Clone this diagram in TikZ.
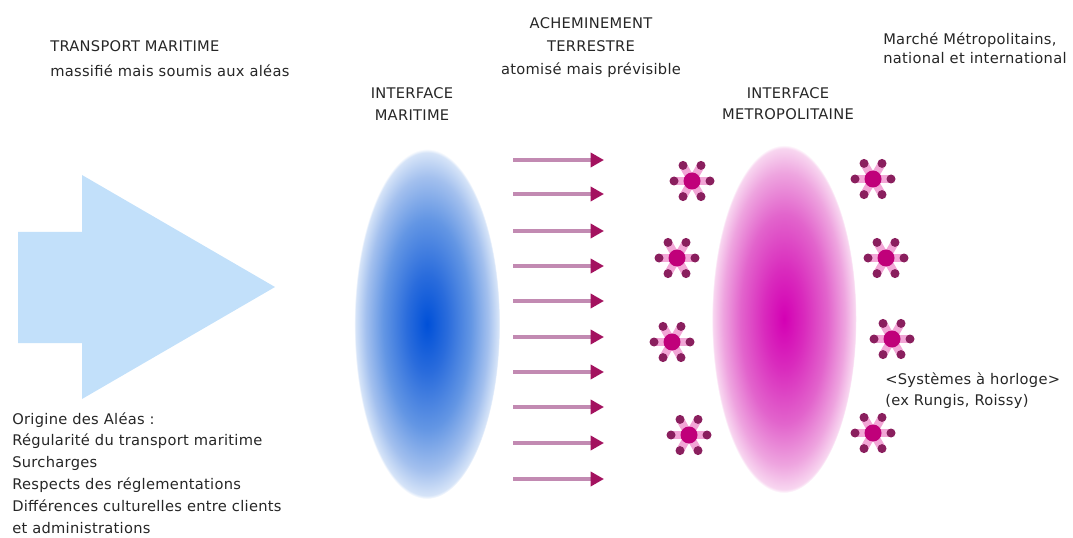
\documentclass[tikz,border=0pt]{standalone}
\usepackage{fontspec}
\setmainfont{DejaVu Sans}[LetterSpace=2]
\usetikzlibrary{arrows.meta,shapes.geometric}
\definecolor{txt}{HTML}{262626}
\definecolor{bigarrow}{HTML}{C2E0FA}
\definecolor{shaft}{HTML}{C28AB2}
\definecolor{headc}{HTML}{A3125F}
\definecolor{starhalo}{HTML}{F2A6D6}
\definecolor{stardark}{HTML}{8A1F5E}
\definecolor{starcore}{HTML}{C0007A}
\definecolor{bA}{HTML}{0050D8}
\definecolor{bB}{HTML}{2A6CDC}
\definecolor{bC}{HTML}{6396E4}
\definecolor{bD}{HTML}{A3C0EE}
\definecolor{bE}{HTML}{D6E4F8}
\definecolor{pA}{HTML}{D400B4}
\definecolor{pB}{HTML}{D92ABD}
\definecolor{pC}{HTML}{E264CC}
\definecolor{pD}{HTML}{EEA4DF}
\definecolor{pE}{HTML}{F8D6F0}
\pgfdeclareradialshading{blueell}{\pgfpoint{0bp}{0bp}}{color(0bp)=(bA); color(7bp)=(bB); color(15bp)=(bC); color(21bp)=(bD); color(24.5bp)=(bE); color(25bp)=(white); color(50bp)=(white)}
\pgfdeclareradialshading{pinkell}{\pgfpoint{0bp}{0bp}}{color(0bp)=(pA); color(7bp)=(pB); color(15bp)=(pC); color(21bp)=(pD); color(24.5bp)=(pE); color(25bp)=(white); color(50bp)=(white)}
\tikzset{
  lbl/.style={inner sep=0pt, text=txt, align=left},
  flow/.style={draw=shaft, line width=3pt, -{Triangle[length=10pt,width=10.5pt,color=headc]}},
  starb/.pic={
    \foreach \a in {0,60,...,300} {
      \draw[starhalo, line width=6pt] (0,0) -- (\a:19);
    }
    \foreach \a in {0,60,...,300} {
      \fill[stardark] (\a:18) circle (4.5);
    }
    \fill[starcore] (0,0) circle (8.5);
  }
}
\begin{document}
\begin{tikzpicture}[x=0.75pt,y=-0.75pt]
\useasboundingbox (0,0) rectangle (1073,538);
% big arrow
\fill[bigarrow] (18,232) -- (82,232) -- (82,175) -- (275,287) -- (82,399) -- (82,343) -- (18,343) -- cycle;
% ellipses
\node[ellipse, shading=blueell, minimum width=109.5pt, minimum height=262.5pt, inner sep=0pt] (imar) at (427,324) {};
\node[ellipse, shading=pinkell, minimum width=108.75pt, minimum height=261pt, inner sep=0pt] (imet) at (784,319) {};
% arrows
\foreach \y [count=\i] in {160,194,231,266,301,337,372,407,443,479} {
  \coordinate (s\i) at (513,\y);
  \coordinate (e\i) at (604,\y);
  \draw[flow] (s\i) -- (e\i);
}
% stars
\foreach \p in {(692,181),(677,258),(672,342),(689,435),(873,179),(886,258),(892,339),(873,433)} {
  \pic at \p {starb};
}
% texts
\node[lbl, anchor=north west, font=\fontsize{11}{18.75}\selectfont] (tm) at (50,40) {TRANSPORT MARITIME\\massifié mais soumis aux aléas};
\node[lbl, anchor=north, align=center, font=\fontsize{11}{17.25}\selectfont] (ach) at (591,17) {ACHEMINEMENT\\TERRESTRE\\atomisé mais prévisible};
\node[lbl, anchor=north, align=center, font=\fontsize{11}{16.5}\selectfont] (imt) at (412,87) {INTERFACE\\MARITIME};
\node[lbl, anchor=north, align=center, font=\fontsize{11}{15.75}\selectfont] (imett) at (788,87) {INTERFACE\\METROPOLITAINE};
\node[lbl, anchor=north west, font=\fontsize{11}{14.25}\selectfont] (mar) at (883,33) {Marché Métropolitains,\\national et international};
\node[lbl, anchor=north west, font=\fontsize{11}{15.75}\selectfont] (sys) at (885,372) {<Systèmes à horloge>\\(ex Rungis, Roissy)};
\node[lbl, anchor=north west, font=\fontsize{11}{16.4}\selectfont] (ori) at (12,412) {Origine des Aléas :\\Régularité du transport maritime\\Surcharges\\Respects des réglementations\\Différences culturelles entre clients\\et administrations};
\end{tikzpicture}
\end{document}
